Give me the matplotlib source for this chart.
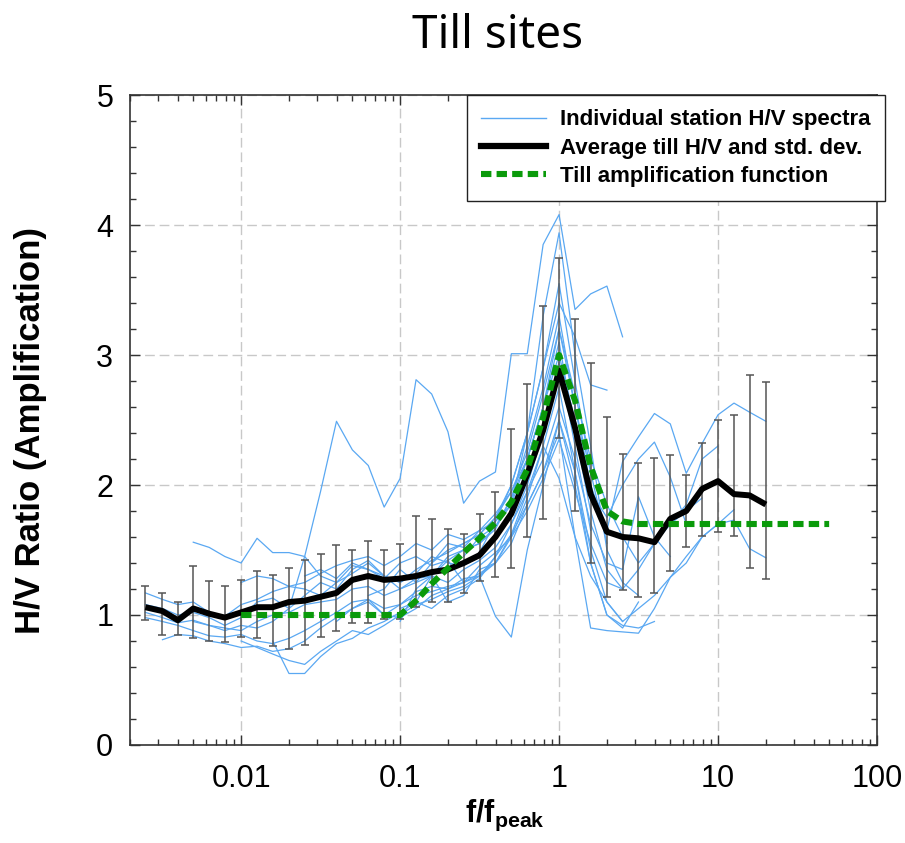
import matplotlib
matplotlib.use("Agg")
import matplotlib.pyplot as plt
from matplotlib.lines import Line2D
from matplotlib.ticker import FixedLocator, FixedFormatter, LogLocator, MultipleLocator, NullFormatter

plt.rcParams["mathtext.fontset"] = "custom"
plt.rcParams["mathtext.rm"] = "Liberation Sans"
plt.rcParams["mathtext.bf"] = "Liberation Sans:bold"

# Normalised frequency grid (f / f_peak), 10 points per decade
freq = [0.0025, 0.0032, 0.0040, 0.0050, 0.0063, 0.0079,
        0.010, 0.0126, 0.0158, 0.020, 0.0251, 0.0316, 0.0398, 0.0501, 0.0631, 0.0794,
        0.10, 0.126, 0.158, 0.20, 0.251, 0.316, 0.398, 0.501, 0.631, 0.794,
        1.0, 1.26, 1.58, 2.0, 2.51, 3.16, 3.98, 5.01, 6.31, 7.94,
        10.0, 12.6, 15.8, 20.0]

# Average till H/V and the ends of the +/- one std. dev. bars
hv_mean = [1.06, 1.03, 0.96, 1.05, 1.01, 0.98,
           1.02, 1.06, 1.06, 1.10, 1.11, 1.14, 1.17, 1.27, 1.30, 1.27,
           1.28, 1.30, 1.33, 1.35, 1.40, 1.46, 1.60, 1.78, 2.08, 2.42,
           2.88, 2.44, 1.93, 1.64, 1.60, 1.59, 1.56, 1.74, 1.80, 1.97,
           2.03, 1.93, 1.92, 1.85]
hv_low = [0.96, 0.85, 0.85, 0.82, 0.80, 0.79,
          0.83, 0.82, 0.76, 0.74, 0.77, 0.83, 0.88, 0.94, 0.94, 0.97,
          0.97, 1.06, 1.10, 1.10, 1.17, 1.26, 1.29, 1.36, 1.60, 1.74,
          2.36, 1.80, 1.40, 1.14, 1.19, 1.14, 1.17, 1.34, 1.52, 1.61,
          1.64, 1.61, 1.36, 1.28]
hv_high = [1.22, 1.17, 1.10, 1.38, 1.26, 1.22,
           1.27, 1.34, 1.31, 1.36, 1.42, 1.47, 1.54, 1.50, 1.57, 1.50,
           1.55, 1.76, 1.74, 1.66, 1.62, 1.78, 1.95, 2.43, 2.78, 3.38,
           3.75, 3.28, 2.94, 2.52, 2.24, 2.17, 2.21, 2.23, 2.08, 2.32,
           2.50, 2.54, 2.85, 2.79]

# Till amplification function
amp_freq = [0.01, 0.1, 0.126, 0.158, 0.2, 0.251, 0.316, 0.398, 0.501, 0.631,
            0.794, 1.0, 1.26, 1.58, 2.0, 2.51, 3.16, 50.0]
amp_val = [1.0, 1.0, 1.11, 1.24, 1.36, 1.48, 1.59, 1.71, 1.87, 2.12,
           2.52, 3.0, 2.65, 2.14, 1.80, 1.72, 1.70, 1.70]

# Individual station H/V spectra (each starts at the grid index given below)
st01 = [1.17, 1.12, 1.08, 1.10, 1.02, 0.99, 1.08, 1.12, 1.18, 1.22,
        1.20, 1.15, 1.25, 1.38, 1.35, 1.28, 1.40, 1.45, 1.38, 1.42,
        1.50, 1.55, 1.66, 1.90, 2.30, 2.75, 3.30, 2.60, 2.00, 1.65,
        2.18, 2.37, 2.55, 2.47, 2.09, 2.32, 2.54, 2.63, 2.56, 2.49]
st02 = [0.98, 0.95, 0.92, 0.88, 0.84, 0.83, 0.85, 0.80, 0.78, 0.82,
        0.88, 0.95, 1.02, 1.10, 1.12, 1.05, 1.08, 1.18, 1.22, 1.20,
        1.28, 1.30, 1.45, 1.62, 1.85, 2.10, 2.50, 2.10, 1.50, 1.10,
        0.95, 1.05, 1.15, 1.29, 1.40, 1.60, 1.70, 1.73, 1.51, 1.44]
st03 = [1.08, 1.05, 1.00, 1.02, 0.98, 0.92, 0.98, 1.10, 1.13, 1.05,
        1.15, 1.25, 1.20, 1.35, 1.42, 1.30, 1.25, 1.32, 1.45, 1.40,
        1.38, 1.48, 1.72, 2.00, 2.40, 2.90, 3.55, 2.80, 2.10, 1.55]
st04 = [1.02, 0.98, 0.94, 0.96, 0.92, 0.90, 0.88, 0.95, 1.00, 1.02,
        1.08, 1.10, 1.12, 1.20, 1.22, 1.15, 1.20, 1.28, 1.30, 1.25,
        1.35, 1.42, 1.52, 1.70, 1.95, 2.20, 2.60, 2.20, 1.70, 1.40,
        1.35, 1.91, 1.60, 1.45]
st05 = [0.81, 0.85, 0.84, 0.80, 0.78, 0.75, 0.76, 0.72, 0.74,
        0.80, 0.90, 0.98, 1.05, 1.12, 1.00, 1.08, 1.15, 1.18, 1.22,
        1.25, 1.32, 1.40, 1.55, 1.85, 2.10, 2.40, 1.60, 0.90, 0.88,
        0.87, 0.86, 1.05, 1.29, 1.45, 1.60, 1.70, 1.81]
st06 = [1.56, 1.52, 1.45, 1.40, 1.59, 1.48, 1.48, 1.45, 1.30, 1.25,
        1.32, 1.40, 1.30, 1.25, 1.35, 1.42, 1.48, 1.55, 1.62, 1.75,
        1.95, 2.25, 2.70, 3.20, 2.60, 2.10]
st07 = [0.95, 0.92, 0.88, 0.92, 0.90, 0.95, 1.05, 1.45, 1.95, 2.49,
        2.27, 2.15, 1.83, 2.05, 2.81, 2.70, 2.41, 1.86, 2.03, 2.10,
        3.01, 3.01, 3.85, 4.08, 3.35, 3.47, 3.53, 3.14]
st08 = [1.25, 1.30, 1.28, 1.22, 1.25, 1.32, 1.38, 1.42, 1.45, 1.38,
        1.45, 1.55, 1.50, 1.62, 1.58, 1.65, 1.78, 1.95, 2.20, 2.60,
        3.10, 2.40, 1.80, 1.35, 1.20]
st09 = [0.80, 0.75, 0.70, 0.65, 0.62, 0.72, 0.80, 0.88, 0.85, 0.92,
        1.00, 1.08, 1.12, 1.18, 1.22, 1.30, 1.40, 1.60, 1.90, 2.30,
        2.75, 2.10, 1.40, 1.00, 0.92, 0.90, 0.95]
st10 = [0.80, 0.55, 0.55, 0.68, 0.78, 0.82, 0.90, 0.95, 1.02, 1.10,
        1.05, 1.15, 1.20, 1.28, 1.45, 1.70, 2.00, 2.40, 2.95, 2.30,
        1.65]
st11 = [1.30, 1.35, 1.28, 1.40, 1.35, 1.30, 1.20, 1.25, 1.40, 1.55,
        1.52, 1.65, 1.72, 1.85, 2.20, 2.60, 3.00, 2.50, 1.95, 1.75,
        2.00, 2.20, 2.33, 2.06, 1.70]
st12 = [0.95, 1.05, 1.10, 1.00, 0.98, 1.05, 1.15, 1.20, 1.25, 1.30,
        0.99, 0.83, 1.50, 2.00, 2.50, 2.00, 1.40, 1.00, 0.90, 1.10]
st13 = [1.15, 1.20, 1.35, 1.25, 1.30, 1.45, 1.50, 1.55, 1.68, 1.90,
        2.20, 2.60, 3.20, 2.70, 2.20, 1.85, 1.60, 1.40, 1.55, 1.70,
        1.85, 2.20, 2.30]
st14 = [0.95, 1.20, 1.30, 1.10, 1.15, 1.35, 1.40, 1.62, 1.95, 2.30,
        2.05, 1.60, 1.30, 1.10, 0.95]
st15 = [1.05, 1.10, 1.30, 1.42, 1.25, 1.38, 1.48, 1.60, 1.80, 2.05,
        2.35, 1.95, 1.55, 1.25, 1.20, 1.35, 1.55, 1.70, 1.80, 1.90]
st16 = [1.40, 1.50, 1.55, 1.62, 1.75, 2.00, 2.40, 2.90, 3.40, 3.14,
        2.77, 2.73]
st17 = [1.45, 1.60, 1.68, 1.85, 2.40, 3.30, 3.94, 3.00, 2.30, 1.50,
        1.25, 1.15]

station_hv = [st01, st02, st03, st04, st05, st06, st07, st08, st09,
              st10, st11, st12, st13, st14, st15, st16, st17]
station_first = [0, 0, 0, 0, 1, 3, 3, 6, 6, 8, 10, 12, 14, 16, 16, 18, 20]

x_ticks = [0.01, 0.1, 1, 10, 100]
x_tick_labels = ["0.01", "0.1", "1", "10", "100"]
y_ticks = [0, 1, 2, 3, 4, 5]

BLUE = "#5aa8f2"
GREEN = "#0a9a0a"
SANS = ["Liberation Sans", "DejaVu Sans"]

fig = plt.figure(figsize=(9.05, 8.43), dpi=100)
W, H = 905, 843
ax = fig.add_axes([130 / W, 1 - 745 / H, (877 - 130) / W, (745 - 95) / H])

for first, vals in zip(station_first, station_hv):
    ax.plot(freq[first:first + len(vals)], vals, color=BLUE, lw=0.9, zorder=2)

err_lo = [m - lo for m, lo in zip(hv_mean, hv_low)]
err_hi = [hi - m for m, hi in zip(hv_mean, hv_high)]
ax.errorbar(freq, hv_mean, yerr=[err_lo, err_hi], fmt="none", ecolor="#555555",
            elinewidth=1.1, capsize=3.2, capthick=1.1, zorder=3)
ax.plot(freq, hv_mean, color="black", lw=4.3, solid_joinstyle="round",
        solid_capstyle="butt", zorder=4)
ax.plot(amp_freq, amp_val, color=GREEN, lw=4.4, dashes=(1.7, 0.85),
        dash_capstyle="butt", zorder=5)

ax.set_xscale("log")
ax.set_xlim(0.002, 100)
ax.set_ylim(0, 5)
ax.xaxis.set_major_locator(FixedLocator(x_ticks))
ax.xaxis.set_major_formatter(FixedFormatter(x_tick_labels))
ax.xaxis.set_minor_locator(LogLocator(base=10, subs=range(2, 10), numticks=20))
ax.xaxis.set_minor_formatter(NullFormatter())
ax.yaxis.set_major_locator(FixedLocator(y_ticks))
ax.yaxis.set_minor_locator(MultipleLocator(0.2))

ax.grid(True, which="major", color="#c8c8c8", lw=1.0, linestyle=(0, (7, 3.5)), zorder=0)
ax.set_axisbelow(True)

ax.tick_params(which="both", direction="in", top=True, right=True, width=1.0, color="#333333")
ax.tick_params(which="major", length=7)
ax.tick_params(which="minor", length=4)
ax.tick_params(axis="x", which="major", pad=14, labelsize=22)
ax.tick_params(axis="y", which="major", pad=12, labelsize=22)
for lab in ax.get_xticklabels() + ax.get_yticklabels():
    lab.set_family(SANS)
for sp in ax.spines.values():
    sp.set_linewidth(1.2)
    sp.set_color("#333333")

fig.text(498 / W, 1 - 48 / H, "Till sites", ha="center", va="baseline",
         fontsize=33, family=["Noto Sans", "DejaVu Sans"])
fig.text(31 / W, 1 - 431 / H, "H/V Ratio (Amplification)", rotation=90,
         ha="center", va="center", fontsize=25, fontweight="bold", family=SANS)
fig.text(505 / W, 1 - 822 / H, r"$\mathbf{f/f_{peak}}$", ha="center", va="baseline",
         fontsize=22)

handles = [Line2D([], [], color=BLUE, lw=1.0),
           Line2D([], [], color="black", lw=4.5),
           Line2D([], [], color=GREEN, lw=4.4, dashes=(1.7, 0.85), dash_capstyle="butt")]
labels = ["Individual station H/V spectra",
          "Average till H/V and std. dev.",
          "Till amplification function"]
leg = ax.legend(handles, labels, loc="upper left", bbox_to_anchor=(467 / W, 1 - 95 / H),
                bbox_transform=fig.transFigure, borderaxespad=0, frameon=True,
                fancybox=False, framealpha=1, edgecolor="#222222",
                prop={"family": SANS, "weight": "bold", "size": 16},
                handlelength=2.9, handletextpad=0.65, borderpad=0.65, labelspacing=0.32)
leg.get_frame().set_linewidth(1.0)
leg.set_zorder(10)

fig.savefig("out.png", dpi=100)
